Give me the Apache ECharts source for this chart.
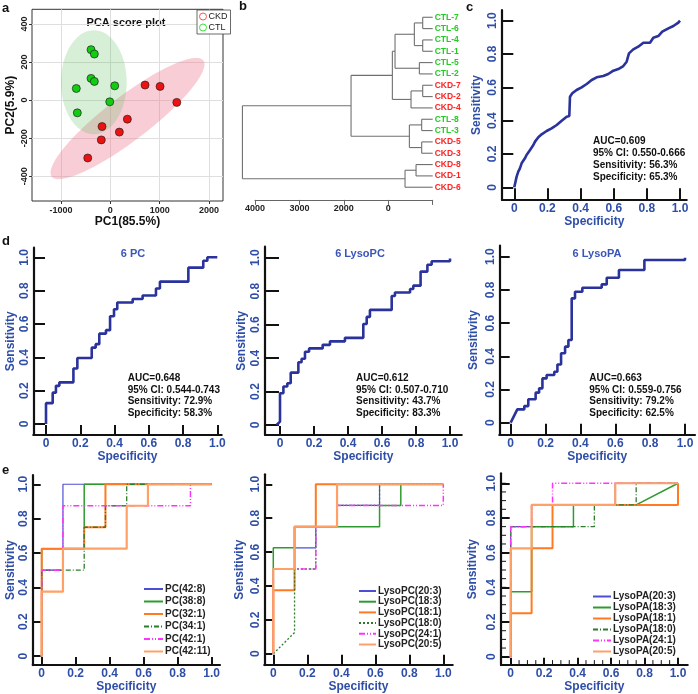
<!DOCTYPE html>
<html>
<head>
<meta charset="utf-8">
<script src="https://cdn.jsdelivr.net/npm/echarts@6/dist/echarts.min.js"></script>
<style>
  html, body { margin: 0; padding: 0; background: #fff; }
  #main { width: 698px; height: 694px; }
</style>
</head>
<body>
<div id="main"></div>
<script>
// ---------- a: PCA scores ----------
const pcaCkd = [[704, 79], [1008, 72], [1347, -12], [345, -100], [-168, -139], [183, -168], [-183, -209], [-458, -304]];
const pcaCtl = [[-391, 265], [-324, 242], [-391, 114], [-324, 98], [-690, 61], [89, 75], [-12, -9], [-669, -67]];
// confidence ellipse: centre x, centre y, semi axis u (dx, dy), semi axis v (dx, dy)
const ellipseCkd = [348, -97, 1537, 305, 271, -92];
const ellipseCtl = [-335, 94, 666, 0, 0, 273];
const pcaXTicks = [-1000, 0, 1000, 2000];
const pcaYTicks = [-400, -200, 0, 200, 400];

// ---------- b: clustering ----------
const leafNames = ['CTL-7', 'CTL-6', 'CTL-4', 'CTL-1', 'CTL-5', 'CTL-2', 'CKD-7', 'CKD-2', 'CKD-4',
  'CTL-8', 'CTL-3', 'CKD-5', 'CKD-3', 'CKD-8', 'CKD-1', 'CKD-6'];
// [child a, child b, height]; leaves are 0..15, merged nodes 16..
const mergeRows = [[0, 1, 225], [2, 3, 225], [16, 17, 413], [4, 5, 300], [18, 19, 848], [6, 7, 225],
  [21, 8, 488], [20, 22, 908], [9, 10, 248], [11, 12, 248], [24, 25, 525], [23, 26, 1838],
  [13, 14, 375], [28, 15, 623], [27, 29, 4283]];
const dendroTicks = [4000, 3000, 2000, 1000, 0];
const dendroTickLabels = ['4000', '3000', '2000', '0', ''];

// ---------- c: all metabolites ROC ----------
const specAll = [0, 0.014, 0.024, 0.034, 0.044, 0.064, 0.074, 0.095, 0.115, 0.125, 0.145, 0.165, 0.195, 0.225,
  0.256, 0.286, 0.316, 0.332, 0.336, 0.35, 0.376, 0.406, 0.437, 0.467, 0.497, 0.537, 0.567, 0.598, 0.628,
  0.658, 0.678, 0.692, 0.718, 0.748, 0.779, 0.819, 0.839, 0.869, 0.893, 0.93, 0.96, 0.99, 1.0];
const sensAll = [0, 0.064, 0.094, 0.114, 0.144, 0.174, 0.194, 0.224, 0.254, 0.274, 0.3, 0.318, 0.338, 0.354,
  0.374, 0.4, 0.424, 0.428, 0.544, 0.564, 0.584, 0.6, 0.62, 0.644, 0.66, 0.668, 0.68, 0.7, 0.71,
  0.728, 0.754, 0.804, 0.828, 0.844, 0.868, 0.868, 0.898, 0.908, 0.934, 0.954, 0.968, 0.988, 1.0];

// ---------- d: panels of 6 (step curves, points at top of each rise) ----------
const specPC = [0, 0, 0.039, 0.058, 0.078, 0.16, 0.183, 0.267, 0.29, 0.311, 0.35, 0.374, 0.397, 0.416, 0.506,
  0.564, 0.642, 0.665, 0.831, 0.918, 0.942, 1.0];
const sensPC = [0, 0.125, 0.188, 0.229, 0.25, 0.333, 0.396, 0.458, 0.479, 0.542, 0.563, 0.646, 0.688, 0.729,
  0.75, 0.771, 0.813, 0.854, 0.938, 0.979, 1.0, 1.0];
const specLysoPC = [-0.02, 0, 0, 0.02, 0.043, 0.063, 0.108, 0.127, 0.147, 0.171, 0.251, 0.294, 0.382, 0.49,
  0.51, 0.529, 0.657, 0.676, 0.765, 0.784, 0.827, 0.867, 0.892, 1.0];
const sensLysoPC = [0, 0.02, 0.19, 0.23, 0.25, 0.313, 0.375, 0.396, 0.438, 0.458, 0.479, 0.5, 0.521, 0.604,
  0.646, 0.688, 0.771, 0.792, 0.813, 0.833, 0.917, 0.958, 0.979, 0.995];
const specLysoPA = [0, 0.038, 0.078, 0.101, 0.143, 0.163, 0.182, 0.206, 0.25, 0.268, 0.289, 0.312, 0.331,
  0.35, 0.369, 0.411, 0.522, 0.551, 0.621, 0.767, 1.0];
const sensLysoPA = [0, 0.08, 0.1, 0.141, 0.181, 0.207, 0.267, 0.287, 0.307, 0.351, 0.418, 0.458, 0.498,
  0.749, 0.789, 0.813, 0.833, 0.873, 0.92, 0.98, 0.994];

const statsAll = ['AUC=0.609', '95% CI: 0.550-0.666', 'Sensitivity: 56.3%', 'Specificity: 65.3%'];
const statsPC = ['AUC=0.648', '95% CI: 0.544-0.743', 'Sensitivity: 72.9%', 'Specificity: 58.3%'];
const statsLysoPC = ['AUC=0.612', '95% CI: 0.507-0.710', 'Sensitivity: 43.7%', 'Specificity: 83.3%'];
const statsLysoPA = ['AUC=0.663', '95% CI: 0.559-0.756', 'Sensitivity: 79.2%', 'Specificity: 62.5%'];

// ---------- e: single metabolites ----------
const pcNames = ['PC(42:8)', 'PC(38:8)', 'PC(32:1)', 'PC(34:1)', 'PC(42:1)', 'PC(42:11)'];
const pcCurves = [
  [[0, 0], [0, 0.5], [0.125, 0.5], [0.125, 1], [1, 1]],
  [[0, 0], [0, 0.625], [0.25, 0.625], [0.25, 1], [1, 1]],
  [[0, 0], [0, 0.625], [0.25, 0.625], [0.25, 0.75], [0.375, 0.75], [0.375, 1], [1, 1]],
  [[0, 0], [0, 0.5], [0.25, 0.5], [0.25, 0.75], [0.375, 0.75], [0.375, 0.875], [0.5, 0.875], [0.5, 1], [1, 1]],
  [[0, 0], [0, 0.5], [0.125, 0.5], [0.125, 0.875], [0.875, 0.875], [0.875, 1], [1, 1]],
  [[0, 0], [0, 0.375], [0.125, 0.375], [0.125, 0.625], [0.5, 0.625], [0.5, 0.875], [0.625, 0.875], [0.625, 1], [1, 1]]
];
const lysoPcNames = ['LysoPC(20:3)', 'LysoPC(18:3)', 'LysoPC(18:1)', 'LysoPC(18:0)', 'LysoPC(24:1)', 'LysoPC(20:5)'];
const lysoPcCurves = [
  [[0, 0], [0, 0.5], [0.125, 0.5], [0.125, 0.625], [0.25, 0.625], [0.25, 0.75], [0.375, 0.75], [0.375, 0.875], [0.625, 0.875], [0.625, 1], [1, 1]],
  [[0, 0], [0, 0.625], [0.125, 0.625], [0.125, 0.75], [0.625, 0.75], [0.625, 0.875], [0.75, 0.875], [0.75, 1], [1, 1]],
  [[0, 0], [0, 0.375], [0.125, 0.375], [0.125, 0.75], [0.25, 0.75], [0.25, 1], [1, 1]],
  [[0, 0], [0.125, 0.125], [0.125, 0.5], [0.25, 0.5], [0.25, 0.75], [0.375, 0.75], [0.375, 0.875], [0.625, 0.875], [0.625, 1], [1, 1]],
  [[0, 0], [0, 0.5], [0.25, 0.5], [0.25, 0.75], [0.375, 0.75], [0.375, 0.875], [1, 0.875], [1, 1]],
  [[0, 0], [0, 0.5], [0.125, 0.5], [0.125, 0.75], [0.375, 0.75], [0.375, 1], [1, 1]]
];
const lysoPaNames = ['LysoPA(20:3)', 'LysoPA(18:3)', 'LysoPA(18:1)', 'LysoPA(18:0)', 'LysoPA(24:1)', 'LysoPA(20:5)'];
const lysoPaCurves = [
  [[0, 0], [0, 0.75], [0.125, 0.75], [0.125, 0.875], [0.625, 0.875], [0.625, 1], [1, 1]],
  [[0, 0], [0, 0.375], [0.125, 0.375], [0.125, 0.75], [0.375, 0.75], [0.375, 0.875], [0.75, 0.875], [1, 1]],
  [[0, 0], [0, 0.25], [0.125, 0.25], [0.125, 0.625], [0.25, 0.625], [0.25, 0.875], [1, 0.875], [1, 1]],
  [[0, 0], [0, 0.75], [0.5, 0.75], [0.5, 0.875], [0.75, 0.875], [0.75, 1], [1, 1]],
  [[0, 0], [0, 0.75], [0.125, 0.75], [0.125, 0.875], [0.25, 0.875], [0.25, 1], [1, 1]],
  [[0, 0], [0, 0.625], [0.125, 0.625], [0.125, 0.875], [0.625, 0.875], [0.625, 1], [1, 1]]
];

const rocTicks = [0, 0.2, 0.4, 0.6, 0.8, 1.0];
const minorTicks = [];
for (let i = 0; i <= 20; i++) minorTicks.push(+(i * 0.05).toFixed(2));

// ---------- styling ----------
const FONT = '"Liberation Sans", Arial, sans-serif';
const BLUE = '#2f4ea8';
const ROC_BLUE = '#2a329c';
const eColors = ['#4d4dd6', '#2f9a2f', '#ff7a22', '#2a7d2a', '#ff33ff', '#ffa066'];
const eWidths = [1.2, 1.5, 2, 1.3, 1.5, 2.2];
const eTypes = {
  pc: ['solid', 'solid', 'solid', [5, 2, 1, 2], [6, 2, 1, 2, 1, 2], 'solid'],
  lpc: ['solid', 'solid', 'solid', [2, 2], [6, 2, 1, 2, 1, 2], 'solid'],
  lpa: ['solid', 'solid', 'solid', [5, 2, 1, 2], [6, 2, 1, 2, 1, 2], 'solid']
};

// pixel boxes of the ROC panels: where 0 and 1 fall, and where the axis lines are
const boxes = [
  { x0: 514.3, x1: 680, y0: 187.3, y1: 20.7, L: 502, B: 200, R: 686.7, T: 10, xg: 14, yg: 19 },
  { x0: 46, x1: 217.3, y0: 424, y1: 257.3, L: 33.3, B: 435, R: 221.7, T: 247.7, xg: 11, yg: 17 },
  { x0: 280, x1: 450, y0: 425, y1: 257.7, L: 265, B: 435, R: 461.7, T: 246.7, xg: 11, yg: 17 },
  { x0: 510.7, x1: 685, y0: 422.7, y1: 256.7, L: 499.3, B: 434.3, R: 695, T: 245.7, xg: 11, yg: 20 },
  { x0: 41.7, x1: 211.7, y0: 656.7, y1: 484.3, L: 32.7, B: 665.7, R: 220, T: 475, xg: 14, yg: 16 },
  { x0: 273.3, x1: 443.3, y0: 654.3, y1: 484.3, L: 264.3, B: 665.7, R: 452.7, T: 474.3, xg: 14, yg: 19 },
  { x0: 510.7, x1: 678, y0: 657.3, y1: 483.3, L: 501, B: 665.7, R: 687.7, T: 473.3, xg: 14, yg: 22 }
];

function fmtRoc(v) { return v === 0 ? '0' : v.toFixed(1); }

const grids = [], xAxes = [], yAxes = [], series = [], legends = [], graphics = [];

// ----- a -----
grids.push({ left: 32, top: 9.3, width: 191, height: 191.7, show: true, borderColor: '#333', borderWidth: 1 });
xAxes.push({
  gridIndex: 0, type: 'value', min: -1588, max: 2284,
  name: 'PC1(85.5%)', nameLocation: 'middle', nameGap: 14,
  nameTextStyle: { fontSize: 12, fontWeight: 'bold', color: '#111', fontFamily: FONT },
  axisLine: { show: false, onZero: false },
  axisTick: { show: true, length: 3, customValues: pcaXTicks, lineStyle: { color: '#333' } },
  axisLabel: { customValues: pcaXTicks, fontSize: 9, fontWeight: 'bold', color: '#222', fontFamily: FONT, margin: 5,
    formatter: v => String(v) },
  splitLine: { show: true, lineStyle: { color: '#dedede' } }
});
yAxes.push({
  gridIndex: 0, type: 'value', min: -530, max: 477,
  name: 'PC2(5.9%)', nameLocation: 'middle', nameGap: 15,
  nameTextStyle: { fontSize: 12, fontWeight: 'bold', color: '#111', fontFamily: FONT },
  axisLine: { show: false, onZero: false },
  axisTick: { show: true, length: 3, customValues: pcaYTicks, lineStyle: { color: '#333' } },
  axisLabel: { customValues: pcaYTicks, rotate: 90, fontSize: 9, fontWeight: 'bold', color: '#222', fontFamily: FONT, margin: 3,
    formatter: v => String(v) },
  splitLine: { show: true, lineStyle: { color: '#dedede' } }
});
function ellipseItem(params, api) {
  const pts = [];
  for (let k = 0; k <= 72; k++) {
    const t = k / 72 * Math.PI * 2;
    const c = Math.cos(t), s = Math.sin(t);
    pts.push(api.coord([api.value(0) + api.value(2) * c + api.value(4) * s,
                        api.value(1) + api.value(3) * c + api.value(5) * s]));
  }
  return { type: 'polygon', shape: { points: pts }, style: { fill: params.seriesIndex === 0 ? 'rgba(240,120,140,0.37)' : 'rgba(100,190,100,0.26)' } };
}
series.push({ type: 'custom', name: 'ellCkd', xAxisIndex: 0, yAxisIndex: 0, renderItem: ellipseItem, data: [ellipseCkd], clip: true, z: 1 });
series.push({ type: 'custom', name: 'ellCtl', xAxisIndex: 0, yAxisIndex: 0, renderItem: ellipseItem, data: [ellipseCtl], clip: true, z: 1 });
series.push({ type: 'scatter', name: 'CKD', xAxisIndex: 0, yAxisIndex: 0, data: pcaCkd, symbolSize: 8, z: 3,
  itemStyle: { color: '#ee1111', borderColor: '#222', borderWidth: 0.7, opacity: 1 } });
series.push({ type: 'scatter', name: 'CTL', xAxisIndex: 0, yAxisIndex: 0, data: pcaCtl, symbolSize: 8, z: 3,
  itemStyle: { color: '#11cc11', borderColor: '#222', borderWidth: 0.7, opacity: 1 } });
legends.push({
  left: 197, top: 10, orient: 'vertical', itemWidth: 7, itemHeight: 7, itemGap: 2,
  padding: [2, 3, 2, 2], borderColor: '#444', borderWidth: 0.8, backgroundColor: '#fff', selectedMode: false,
  textStyle: { fontSize: 9, fontFamily: FONT, color: '#222', padding: [0, 0, 0, -3] },
  data: [
    { name: 'CKD', icon: 'circle', itemStyle: { color: '#fff', borderColor: '#ff5555', borderWidth: 1 } },
    { name: 'CTL', icon: 'circle', itemStyle: { color: '#fff', borderColor: '#44dd44', borderWidth: 1 } }
  ]
});

// ----- b -----
const nodeY = leafNames.map((n, i) => i);
const nodeH = leafNames.map(() => 0);
const dendroSegs = [];
mergeRows.forEach(([a, b, h]) => {
  dendroSegs.push([nodeH[a], nodeY[a], h, nodeY[a]]);
  dendroSegs.push([nodeH[b], nodeY[b], h, nodeY[b]]);
  dendroSegs.push([h, nodeY[a], h, nodeY[b]]);
  nodeY.push((nodeY[a] + nodeY[b]) / 2);
  nodeH.push(h);
});
grids.push({ left: 255, top: 11.6, width: 177.7, height: 181.3 });
xAxes.push({
  gridIndex: 1, type: 'value', min: 0, max: 4000, inverse: true, offset: 7,
  axisLine: { show: true, onZero: false, lineStyle: { color: '#666' } },
  axisTick: { show: true, length: 5, customValues: dendroTicks, lineStyle: { color: '#666' } },
  axisLabel: { customValues: dendroTicks, fontSize: 9, fontWeight: 'bold', color: '#222', fontFamily: FONT, margin: 4,
    formatter: v => dendroTickLabels[dendroTicks.indexOf(v)] },
  splitLine: { show: false }
});
yAxes.push({
  gridIndex: 1, type: 'value', min: -0.5, max: leafNames.length - 0.5, inverse: true, position: 'right',
  axisLine: { show: false, onZero: false }, axisTick: { show: false }, splitLine: { show: false },
  axisLabel: {
    customValues: leafNames.map((n, i) => i), margin: 2,
    formatter: v => '{' + (leafNames[v].indexOf('CTL') === 0 ? 'g' : 'r') + '|' + leafNames[v] + '}',
    rich: {
      g: { color: '#22cc22', fontSize: 8.5, fontWeight: 'bold', fontFamily: FONT },
      r: { color: '#ff2222', fontSize: 8.5, fontWeight: 'bold', fontFamily: FONT }
    }
  }
});
series.push({
  type: 'custom', name: 'dendro', xAxisIndex: 1, yAxisIndex: 1, clip: false, data: dendroSegs,
  renderItem: (params, api) => {
    const p1 = api.coord([api.value(0), api.value(1)]);
    const p2 = api.coord([api.value(2), api.value(3)]);
    return { type: 'line', shape: { x1: p1[0], y1: p1[1], x2: p2[0], y2: p2[1] }, style: { stroke: '#707070', lineWidth: 1.1 } };
  }
});

// ----- ROC axes c, d, e -----
boxes.forEach((b, k) => {
  const gi = k + 2;
  const ux = b.x1 - b.x0, uy = b.y0 - b.y1;
  grids.push({ left: b.L, top: b.T, width: b.R - b.L, height: b.B - b.T });
  xAxes.push({
    gridIndex: gi, type: 'value', min: -(b.x0 - b.L) / ux, max: 1 + (b.R - b.x1) / ux,
    name: 'Specificity', nameLocation: 'middle', nameGap: b.xg,
    nameTextStyle: { color: BLUE, fontWeight: 'bold', fontSize: 12, fontFamily: FONT },
    axisLine: { show: true, onZero: false, lineStyle: { color: '#111', width: 2.2 } },
    axisTick: { show: true, inside: true, length: b.B - b.y0 - 1, customValues: rocTicks, lineStyle: { color: '#111', width: 2 } },
    axisLabel: { customValues: rocTicks, color: BLUE, fontWeight: 'bold', fontSize: 12, fontFamily: FONT, margin: 3, formatter: fmtRoc },
    splitLine: { show: false }
  });
  yAxes.push({
    gridIndex: gi, type: 'value', min: -(b.B - b.y0) / uy, max: 1 + (b.y1 - b.T) / uy,
    name: 'Sensitivity', nameLocation: 'middle', nameGap: b.yg,
    nameTextStyle: { color: BLUE, fontWeight: 'bold', fontSize: 12, fontFamily: FONT },
    axisLine: { show: true, onZero: false, lineStyle: { color: '#111', width: 2.2 } },
    axisTick: { show: true, inside: true, length: b.x0 - b.L - 1, customValues: rocTicks, lineStyle: { color: '#111', width: 2 } },
    axisLabel: { customValues: rocTicks, rotate: 90, color: BLUE, fontWeight: 'bold', fontSize: 12, fontFamily: FONT, margin: 3, formatter: fmtRoc },
    splitLine: { show: false }
  });
});

// minor inside ticks on the last panel, placed through the panel's own axes
series.push({
  type: 'custom', name: 'minorTicks', xAxisIndex: 8, yAxisIndex: 8, clip: false, silent: true,
  data: minorTicks.map(v => [v, v]),
  renderItem: (params, api) => {
    const v = api.value(0);
    const px = api.coord([v, yAxes[8].min]);
    const py = api.coord([xAxes[8].min, v]);
    return {
      type: 'group', children: [
        { type: 'line', shape: { x1: px[0], y1: px[1], x2: px[0], y2: px[1] - 5 }, style: { stroke: '#111', lineWidth: 1 } },
        { type: 'line', shape: { x1: py[0], y1: py[1], x2: py[0] + 5, y2: py[1] }, style: { stroke: '#111', lineWidth: 1 } }
      ]
    };
  }
});

function zip(a, b) { return a.map((v, i) => [v, b[i]]); }
// first segment straight, then across and up
function stepPath(sp, se) {
  const pts = [[sp[0], se[0]], [sp[1], se[1]]];
  for (let i = 2; i < sp.length; i++) {
    pts.push([sp[i], se[i - 1]]);
    pts.push([sp[i], se[i]]);
  }
  return pts;
}
const rocLine = { type: 'line', symbol: 'none', silent: true, lineStyle: { color: ROC_BLUE, width: 2.6 } };
series.push(Object.assign({ name: 'all', xAxisIndex: 2, yAxisIndex: 2, data: zip(specAll, sensAll) }, rocLine));
series.push(Object.assign({ name: '6 PC', xAxisIndex: 3, yAxisIndex: 3, data: stepPath(specPC, sensPC) }, rocLine));
series.push(Object.assign({ name: '6 LysoPC', xAxisIndex: 4, yAxisIndex: 4, data: stepPath(specLysoPC, sensLysoPC) }, rocLine));
series.push(Object.assign({ name: '6 LysoPA', xAxisIndex: 5, yAxisIndex: 5, data: stepPath(specLysoPA, sensLysoPA) }, rocLine));

function addCurves(names, curves, types, gi, legendPos) {
  names.forEach((n, i) => {
    series.push({
      type: 'line', name: n, xAxisIndex: gi, yAxisIndex: gi, data: curves[i], symbol: 'none', silent: true,
      color: eColors[i], lineStyle: { color: eColors[i], width: eWidths[i], type: types[i] }
    });
  });
  legends.push({
    left: legendPos[0], top: legendPos[1], orient: 'vertical', itemWidth: legendPos[2], itemHeight: 8,
    itemGap: legendPos[3], padding: 0, selectedMode: false, data: names,
    itemStyle: { opacity: 0, borderWidth: 0 },
    textStyle: { fontSize: 10, fontWeight: 'bold', color: '#222', fontFamily: FONT, lineHeight: 10, padding: [0, 0, 0, -3] }
  });
}
addCurves(pcNames, pcCurves, eTypes.pc, 6, [143, 584, 19, 2.5]);
addCurves(lysoPcNames, lysoPcCurves, eTypes.lpc, 7, [358, 586, 17, 0.7]);
addCurves(lysoPaNames, lysoPaCurves, eTypes.lpa, 8, [592, 591.5, 18, 1]);

// ----- text -----
function addText(x, y, text, extra) {
  graphics.push({ type: 'text', x: x, y: y, silent: true,
    style: Object.assign({ text: text, fontFamily: FONT, fontSize: 10, fontWeight: 'bold', fill: '#111', align: 'left', verticalAlign: 'middle' }, extra || {}) });
}
function addStats(x, y, lines) { lines.forEach((t, i) => addText(x, y + i * 11.7, t)); }
addText(2, 8, 'a', { fontSize: 13 });
addText(239, 6, 'b', { fontSize: 13 });
addText(466, 7, 'c', { fontSize: 13 });
addText(2, 241, 'd', { fontSize: 13 });
addText(2, 470, 'e', { fontSize: 13 });
addText(126, 23, 'PCA score plot', { fontSize: 11, align: 'center' });
addText(133, 254, '6 PC', { fontSize: 11, align: 'center', fill: '#3a56b8' });
addText(360, 254, '6 LysoPC', { fontSize: 11, align: 'center', fill: '#3a56b8' });
addText(597, 254, '6 LysoPA', { fontSize: 11, align: 'center', fill: '#3a56b8' });
addStats(593, 141.7, statsAll);
addStats(127.7, 378.3, statsPC);
addStats(356, 378.3, statsLysoPC);
addStats(589.3, 378.3, statsLysoPA);

const chart = echarts.init(document.getElementById('main'), null, { renderer: 'canvas' });
chart.setOption({
  animation: false,
  backgroundColor: '#fff',
  grid: grids,
  xAxis: xAxes,
  yAxis: yAxes,
  legend: legends,
  series: series,
  graphic: graphics
});
</script>
</body>
</html>
